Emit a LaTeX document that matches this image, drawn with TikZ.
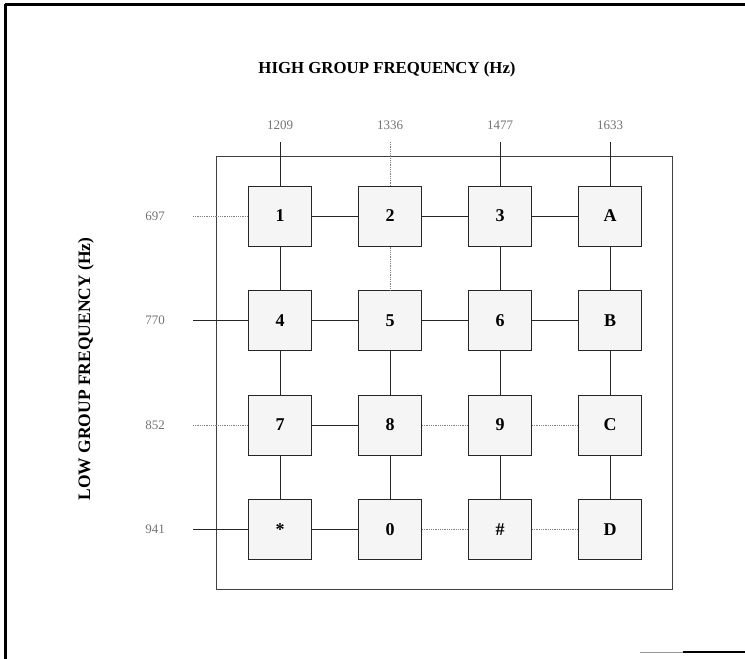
\documentclass[tikz,border=0pt]{standalone}
\usepackage{fontspec}
\setmainfont{Liberation Serif}
\begin{document}
\begin{tikzpicture}[x=1pt,y=-1pt,
  key/.style={draw=black!85, line width=1pt, fill=black!4, minimum width=63pt, minimum height=60pt, inner sep=0pt, font=\fontsize{18}{18}\selectfont\bfseries},
  wire/.style={draw=black!85, line width=0.9pt},
  faint/.style={draw=black!50, line width=0.8pt, densely dotted},
  freq/.style={font=\fontsize{13}{13}\selectfont, text=black!55, inner sep=0pt},
  heading/.style={font=\fontsize{16.8}{16.8}\selectfont\bfseries, inner sep=0pt},
  border/.style={draw=black, line width=3pt}]
\useasboundingbox (0,0) rectangle (745,659);
% page borders
\draw[border] (5,4) -- (745,4);
\draw[border] (5,4) -- (5,659);
\draw[draw=black, line width=2.2pt] (683,652) -- (745,652);
\draw[draw=black!40, line width=1pt] (640,652) -- (683,652);
% titles
\node[heading] (ht) at (387,69) {HIGH GROUP FREQUENCY (Hz)};
\node[heading, rotate=90, font=\fontsize{17.5}{17.5}\selectfont\bfseries] (lt) at (86,369) {LOW GROUP FREQUENCY (Hz)};
% frame
\draw[draw=black!75, line width=0.9pt] (216,156) rectangle (672,589);
% keys
\node[key] (k11) at (280,216) {1};
\node[key] (k12) at (390,216) {2};
\node[key] (k13) at (500,216) {3};
\node[key] (k14) at (610,216) {A};
\node[key] (k21) at (280,320.5) {4};
\node[key] (k22) at (390,320.5) {5};
\node[key] (k23) at (500,320.5) {6};
\node[key] (k24) at (610,320.5) {B};
\node[key] (k31) at (280,425) {7};
\node[key] (k32) at (390,425) {8};
\node[key] (k33) at (500,425) {9};
\node[key] (k34) at (610,425) {C};
\node[key] (k41) at (280,529.5) {*};
\node[key] (k42) at (390,529.5) {0};
\node[key] (k43) at (500,529.5) {\#};
\node[key] (k44) at (610,529.5) {D};
% frequency labels
\node[freq] (f1) at (280,125) {1209};
\node[freq] (f2) at (390,125) {1336};
\node[freq] (f3) at (500,125) {1477};
\node[freq] (f4) at (610,125) {1633};
\node[freq] (g1) at (155,216) {697};
\node[freq] (g2) at (155,320.5) {770};
\node[freq] (g3) at (155,425) {852};
\node[freq] (g4) at (155,529.5) {941};
% connector ends
\coordinate (c1) at (280,142);
\coordinate (c2) at (390,142);
\coordinate (c3) at (500,142);
\coordinate (c4) at (610,142);
\coordinate (r1) at (193,216);
\coordinate (r2) at (193,320.5);
\coordinate (r3) at (193,425);
\coordinate (r4) at (193,529.5);
% rows
\draw[faint] (r1) -- (k11);
\draw[wire] (k11) -- (k12);
\draw[wire] (k12) -- (k13);
\draw[wire] (k13) -- (k14);
\draw[wire] (r2) -- (k21);
\draw[wire] (k21) -- (k22);
\draw[wire] (k22) -- (k23);
\draw[wire] (k23) -- (k24);
\draw[faint] (r3) -- (k31);
\draw[wire] (k31) -- (k32);
\draw[faint] (k32) -- (k33);
\draw[faint] (k33) -- (k34);
\draw[wire] (r4) -- (k41);
\draw[wire] (k41) -- (k42);
\draw[faint] (k42) -- (k43);
\draw[faint] (k43) -- (k44);
% columns
\draw[wire] (c1) -- (k11);
\draw[wire] (k11) -- (k21);
\draw[wire] (k21) -- (k31);
\draw[wire] (k31) -- (k41);
\draw[faint] (c2) -- (k12);
\draw[faint] (k12) -- (k22);
\draw[wire] (k22) -- (k32);
\draw[wire] (k32) -- (k42);
\draw[wire] (c3) -- (k13);
\draw[wire] (k13) -- (k23);
\draw[wire] (k23) -- (k33);
\draw[wire] (k33) -- (k43);
\draw[wire] (c4) -- (k14);
\draw[wire] (k14) -- (k24);
\draw[wire] (k24) -- (k34);
\draw[wire] (k34) -- (k44);
\end{tikzpicture}
\end{document}
